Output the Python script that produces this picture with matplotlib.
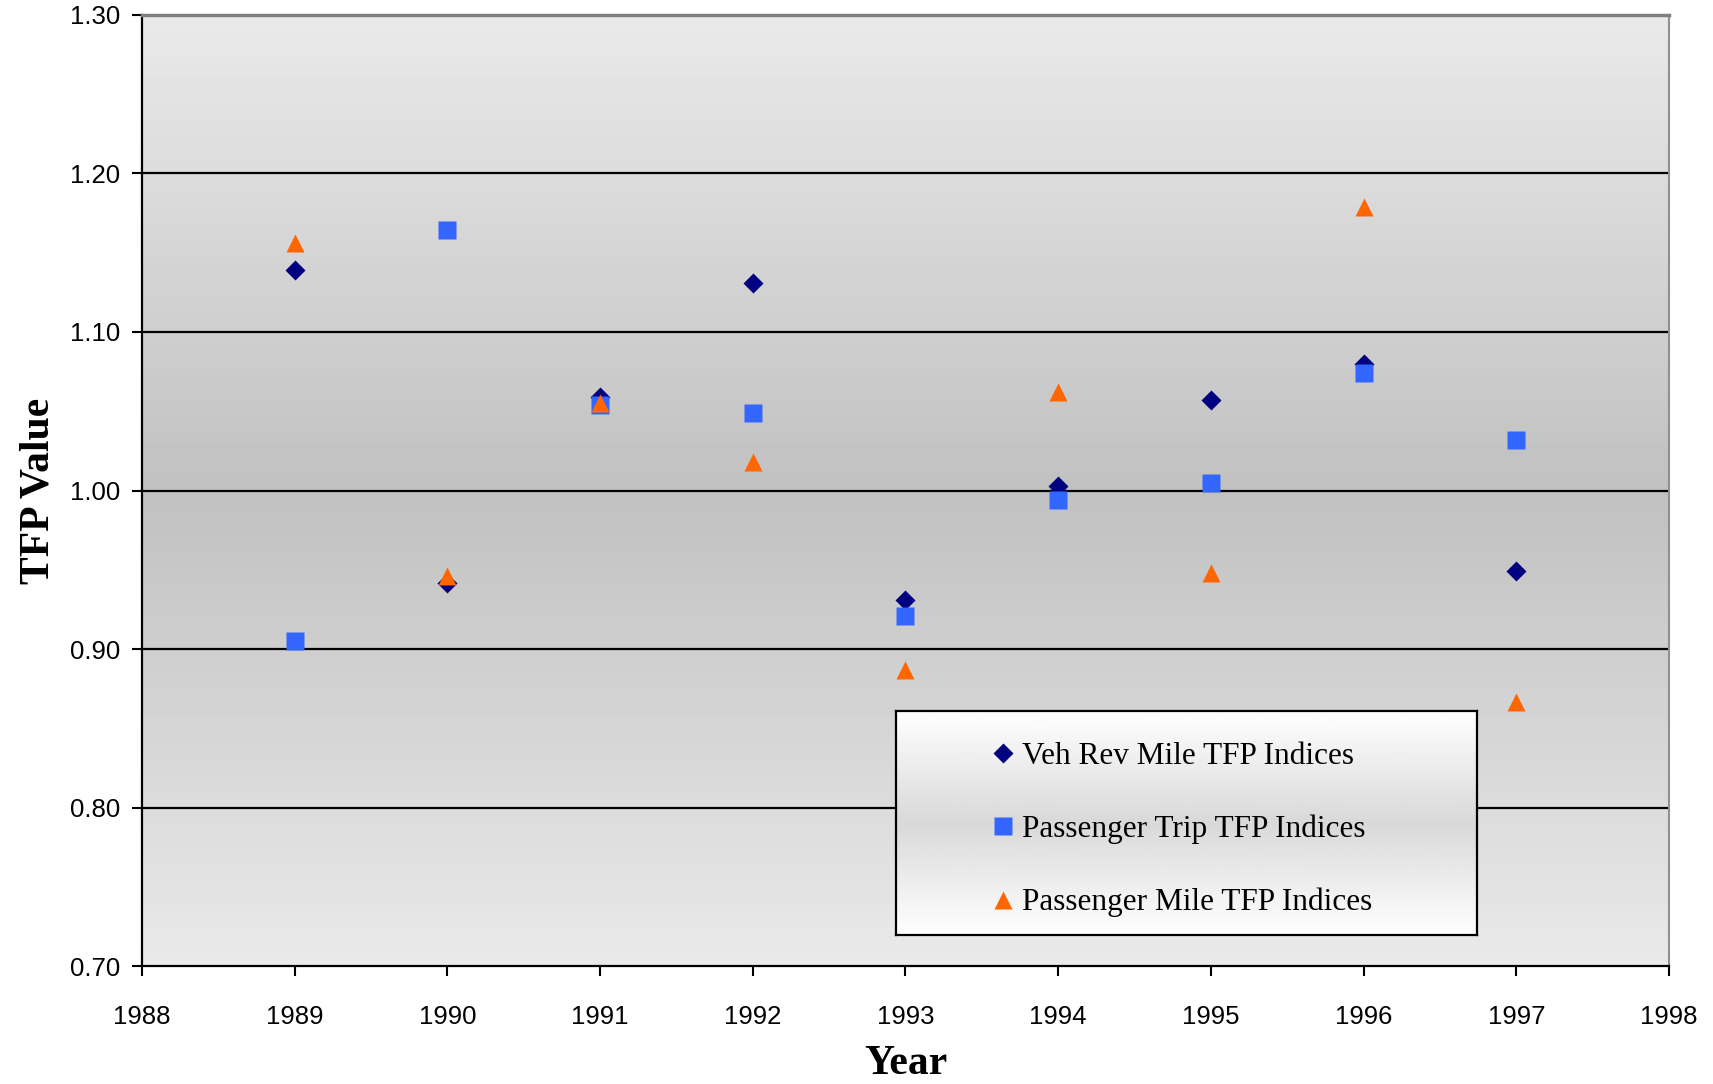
import matplotlib.pyplot as plt
import numpy as np
from matplotlib.lines import Line2D

years = [1989, 1990, 1991, 1992, 1993, 1994, 1995, 1996, 1997]
veh_rev_mile = [1.139, 0.942, 1.059, 1.131, 0.931, 1.003, 1.057, 1.080, 0.949]
pass_trip = [0.905, 1.164, 1.054, 1.049, 0.921, 0.994, 1.005, 1.074, 1.032]
pass_mile = [1.156, 0.946, 1.055, 1.018, 0.887, 1.062, 0.948, 1.179, 0.867]

labels = ['Veh Rev Mile TFP Indices', 'Passenger Trip TFP Indices', 'Passenger Mile TFP Indices']
yticks = [0.70, 0.80, 0.90, 1.00, 1.10, 1.20, 1.30]
xticks = list(range(1988, 1999))

fig = plt.figure(figsize=(17.13, 10.84), dpi=100)
ax = fig.add_axes([0.0829, 0.1084, 0.8914, 0.8782])

# vertical gray gradient behind the plot
t = np.linspace(0, 1, 256)
shade = 0.915 - 0.16 * (1 - np.abs(t - 0.5) * 2)
grad = np.tile(shade[:, None], (1, 2))
ax.imshow(grad, cmap='gray', vmin=0, vmax=1, aspect='auto',
          extent=[1988, 1998, 0.70, 1.30], origin='upper', zorder=0)

ax.set_xlim(1988, 1998)
ax.set_ylim(0.70, 1.30)
ax.set_yticks(yticks)
ax.set_yticklabels(['%.2f' % v for v in yticks])
ax.set_xticks(xticks)
for v in yticks[1:-1]:
    ax.axhline(v, color='black', lw=1.6, zorder=1)

ax.plot(years, veh_rev_mile, 'D', color='#000080', ms=10.5, mec='none', zorder=3)
ax.plot(years, pass_trip, 's', color='#3366FF', ms=13.5, mec='none', zorder=3)
ax.plot(years, pass_mile, '^', color='#FF6600', ms=13, mec='none', zorder=4)

ax.tick_params(direction='out', length=7, width=1.5, labelsize=18.5, color='black')
ax.tick_params(axis='y', pad=9)
ax.tick_params(axis='x', pad=21)
for lab in ax.get_xticklabels() + ax.get_yticklabels():
    lab.set_family('Liberation Sans')
ax.spines['left'].set_linewidth(1.6)
ax.spines['bottom'].set_linewidth(1.6)
ax.spines['top'].set_color('#808080')
ax.spines['top'].set_linewidth(2.5)
ax.spines['right'].set_color('#909090')
ax.spines['right'].set_linewidth(1.5)

ax.set_ylabel('TFP Value', fontfamily='Liberation Serif', fontweight='bold', fontsize=30, labelpad=9)
ax.set_xlabel('Year', fontfamily='Liberation Serif', fontweight='bold', fontsize=30, labelpad=11)

# legend box with its own gradient
lax = fig.add_axes([896 / 1713, 1 - 935 / 1084, 581 / 1713, 224 / 1084])
lshade = 1.0 - 0.15 * (1 - np.abs(t - 0.5) * 2)
lax.imshow(np.tile(lshade[:, None], (1, 2)), cmap='gray', vmin=0, vmax=1,
           aspect='auto', extent=[0, 1, 0, 1])
lax.set_xticks([])
lax.set_yticks([])
for s in lax.spines.values():
    s.set_linewidth(1.6)
    s.set_color('black')

handles = [
    Line2D([], [], ls='none', marker='D', color='#000080', ms=10.5, mec='none'),
    Line2D([], [], ls='none', marker='s', color='#3366FF', ms=13.5, mec='none'),
    Line2D([], [], ls='none', marker='^', color='#FF6600', ms=13, mec='none'),
]
lax.legend(handles, labels, loc='center left', bbox_to_anchor=(0.141, 0.47),
           frameon=False, handlelength=0.8, handletextpad=0.2,
           labelspacing=1.4, borderaxespad=0,
           prop={'family': 'Liberation Serif', 'size': 22.5})

fig.savefig('out.png', dpi=100)
